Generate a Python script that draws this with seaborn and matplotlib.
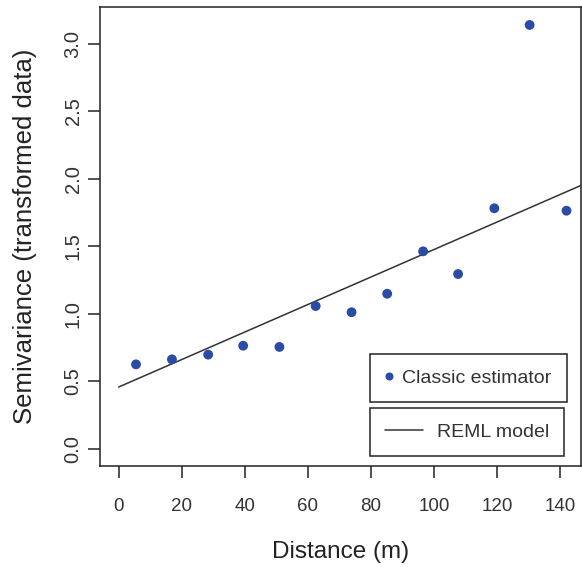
import matplotlib
matplotlib.use("Agg")
import matplotlib.pyplot as plt
from matplotlib.lines import Line2D
import seaborn as sns
import pandas as pd

distance = [5.5, 16.9, 28.4, 39.5, 51.0, 62.5, 73.9, 85.2, 96.6, 107.7, 119.2, 130.4, 142.1]
semivariance = [0.627, 0.664, 0.699, 0.765, 0.756, 1.059, 1.013, 1.150, 1.464, 1.296, 1.783, 3.141, 1.765]

# Fitted REML model (linear), endpoints
model_distance = [0, 150]
model_semivariance = [0.459, 1.986]

y_ticks = [0.0, 0.5, 1.0, 1.5, 2.0, 2.5, 3.0]
x_ticks = [0, 20, 40, 60, 80, 100, 120, 140]

pts = pd.DataFrame({"distance": distance, "gamma": semivariance})
model = pd.DataFrame({"distance": model_distance, "gamma": model_semivariance})

sns.set_style("white")
plt.rcParams["font.family"] = ["Liberation Sans", "DejaVu Sans"]

dot_color = "#2a4ba6"
ink = "#222222"

fig = plt.figure(figsize=(5.82, 5.67), dpi=100)
ax = fig.add_axes([100 / 582, 101 / 567, 481 / 582, 459 / 567])

sns.lineplot(data=model, x="distance", y="gamma", color="#333333", lw=1.1, ax=ax)
sns.scatterplot(data=pts, x="distance", y="gamma", color=dot_color, s=50,
                edgecolor="none", ax=ax, legend=False, zorder=3)

ax.set_xlim(-5.93, 146.7)
ax.set_ylim(-0.126, 3.274)
ax.set_xticks(x_ticks)
ax.set_yticks(y_ticks)
ax.set_xticklabels([str(t) for t in x_ticks], fontsize=13.5, color="#333333")
ax.set_yticklabels([f"{t:.1f}" for t in y_ticks], fontsize=14.5, color="#333333",
                   rotation=90, va="center")

ax.tick_params(axis="both", direction="out", length=8.5, width=1.1, color=ink,
               bottom=True, left=True)
ax.tick_params(axis="x", pad=14.5)
ax.tick_params(axis="y", pad=4)

for s in ax.spines.values():
    s.set_color(ink)
    s.set_linewidth(1.1)
    s.set_visible(True)

ax.set_xlabel("Distance (m)", fontsize=17.5, color=ink, labelpad=19)
ax.set_ylabel("Semivariance (transformed data)", fontsize=18.5, color=ink, labelpad=19)

h1 = Line2D([], [], marker="o", ls="", color=dot_color, markersize=4.8)
h2 = Line2D([], [], color="#333333", lw=1.1)

leg1 = ax.legend(handles=[h1], labels=["Classic estimator"], loc="upper right",
                 bbox_to_anchor=(566.7 / 582, 1 - 354.3 / 567),
                 bbox_transform=fig.transFigure, borderaxespad=0,
                 fontsize=14, frameon=True, fancybox=False, framealpha=1,
                 edgecolor=ink, borderpad=0.78, handlelength=0.45,
                 handletextpad=0.45, labelcolor="#333333")
leg1.get_frame().set_linewidth(1.1)
ax.add_artist(leg1)

leg2 = ax.legend(handles=[h2], labels=["REML model"], loc="upper right",
                 bbox_to_anchor=(564.3 / 582, 1 - 408.3 / 567),
                 bbox_transform=fig.transFigure, borderaxespad=0,
                 fontsize=14, frameon=True, fancybox=False, framealpha=1,
                 edgecolor=ink, borderpad=0.78, handlelength=1.95,
                 handletextpad=0.7, labelcolor="#333333")
leg2.get_frame().set_linewidth(1.1)

fig.savefig("out.png", dpi=100, facecolor="white")
